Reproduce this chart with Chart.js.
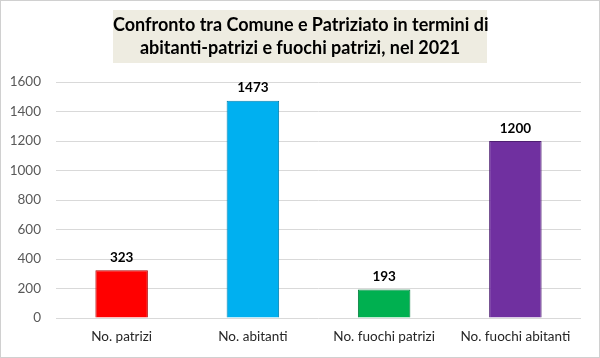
<!DOCTYPE html>
<html>
<head>
<meta charset="utf-8">
<script src="https://cdn.jsdelivr.net/npm/chart.js@4"></script>
<style>
  body { margin: 0; background: #fff; }
  #wrap { position: relative; width: 600px; height: 358px; }
  #titleBox {
    position: absolute; left: 113px; top: 10px; width: 374px; height: 53px;
    background: #eeece1; font-family: Lato, sans-serif; font-weight: bold;
    font-size: 18px; line-height: 23px; text-align: center; color: #000;
    padding-top: 3px; box-sizing: border-box; white-space: nowrap;
  }
</style>
</head>
<body>
<div id="wrap">
  <canvas id="grafico" width="600" height="358"></canvas>
  <div id="titleBox">Confronto tra Comune e Patriziato in termini di<br>abitanti-patrizi e fuochi patrizi, nel 2021</div>
</div>
<script>
// Dati del grafico
const categorie = ["No. patrizi", "No. abitanti", "No. fuochi patrizi", "No. fuochi abitanti"];
const valori = [323, 1473, 193, 1200];
const tickY = [0, 200, 400, 600, 800, 1000, 1200, 1400, 1600];

const colori = ["#ff0000", "#00b0f0", "#00b050", "#7030a0"];
const bordi = ["#b00000", "#0080b0", "#007a3a", "#4e1f72"];

// Sfondo bianco e cornice grigia
const cornice = {
  id: "cornice",
  beforeDraw(chart) {
    const ctx = chart.ctx;
    ctx.save();
    ctx.fillStyle = "#fff";
    ctx.fillRect(0, 0, chart.width, chart.height);
    ctx.strokeStyle = "#d0d0d0";
    ctx.lineWidth = 1;
    ctx.strokeRect(0.5, 0.5, chart.width - 1, chart.height - 1);
    ctx.restore();
  }
};

// Etichette sopra le barre
const etichette = {
  id: "etichette",
  afterDatasetsDraw(chart) {
    const ctx = chart.ctx;
    const meta = chart.getDatasetMeta(0);
    ctx.save();
    ctx.font = "bold 13.5px Lato, sans-serif";
    ctx.fillStyle = "#000";
    ctx.textAlign = "center";
    ctx.textBaseline = "bottom";
    meta.data.forEach(function (bar, i) {
      ctx.fillText(valori[i], bar.x, bar.y - 6);
    });
    ctx.restore();
  }
};

new Chart(document.getElementById("grafico"), {
  type: "bar",
  data: {
    labels: categorie,
    datasets: [{
      data: valori,
      backgroundColor: colori,
      borderColor: bordi,
      borderWidth: 1,
      barPercentage: 0.4,
      categoryPercentage: 1
    }]
  },
  options: {
    responsive: false,
    animation: false,
    layout: { padding: { top: 82, right: 19, bottom: 10, left: 0 } },
    plugins: { legend: { display: false }, tooltip: { enabled: false } },
    scales: {
      x: {
        grid: { display: false, drawTicks: false },
        border: { display: false },
        ticks: { color: "#262626", font: { family: "Lato, sans-serif", size: 13.5 }, padding: 11 },
        afterFit(scale) { scale.height = 30; }
      },
      y: {
        min: 0,
        max: 1600,
        afterBuildTicks(scale) { scale.ticks = tickY.map(v => ({ value: v })); },
        grid: { color: "#d9d9d9", drawTicks: false },
        border: { display: false },
        ticks: {
          color: "#595959",
          font: { family: "Lato, sans-serif", size: 13.5 },
          padding: 15,
          callback: function (v) { return String(v); }
        },
        afterFit(scale) { scale.width = 56; }
      }
    }
  },
  plugins: [cornice, etichette]
});
</script>
</body>
</html>
